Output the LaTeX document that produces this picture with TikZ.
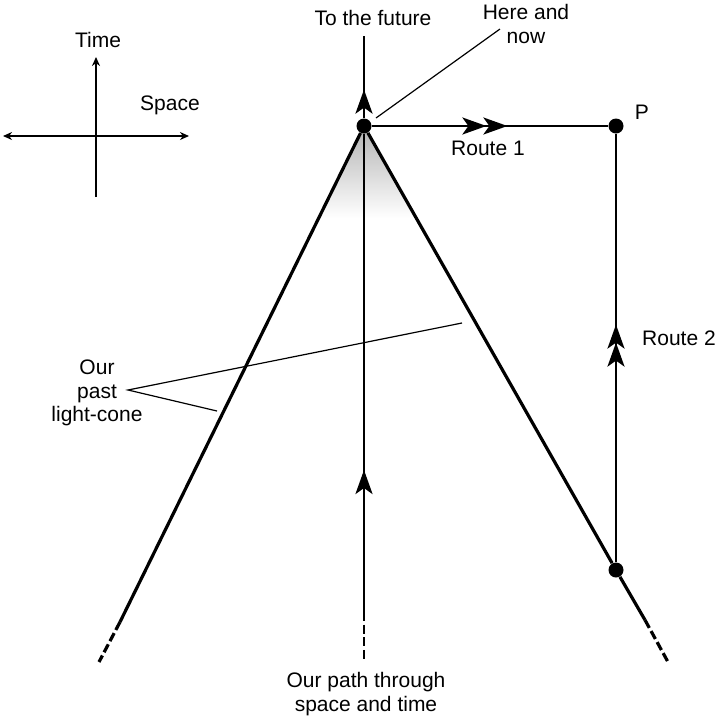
\documentclass[tikz,border=0pt]{standalone}
\usepackage{fontspec}
\setmainfont{Liberation Sans}
\usetikzlibrary{arrows.meta,decorations.markings}
\tikzset{
  rtip/.tip={Stealth[length=12pt,width=8.5pt,inset=3pt]},
  stip/.tip={Stealth[length=4.5pt,width=4pt]}
}
\begin{document}
\begin{tikzpicture}[x=0.5pt,y=-0.5pt,
  lbl/.style={font=\fontsize{10.5}{11.75}\selectfont, align=center, inner sep=0pt},
  dot/.style={circle, fill=black, inner sep=0pt, minimum size=7.5pt},
  cone/.style={line width=1.6pt},
  mid/.style={line width=1.4pt},
  route/.style={line width=1.2pt},
  thin/.style={line width=0.6pt},
  axis/.style={line width=0.8pt},
  dashpart/.style={dash pattern=on 4.5pt off 1.8pt}
]
\useasboundingbox (0,0) rectangle (719,719);

% coordinates
\coordinate (apex) at (364,126);
\coordinate (Ldash) at (120,622);
\coordinate (Lend) at (99,662);
\coordinate (Rdash) at (645,620);
\coordinate (Rend) at (668,662);
\coordinate (Mdash) at (364,612);
\coordinate (Mend) at (364,662);
\coordinate (top) at (364,36);

% shading inside the cone near the apex
\shade[top color=gray!60, bottom color=white] (apex) -- (318,218) -- (416,218) -- cycle;

% nodes
\node[dot] (H) at (apex) {};
\node[dot] (P) at (616,126) {};
\node[dot] (Q) at (616,570) {};

% cone lines
\draw[cone] (H) -- (Ldash);
\draw[cone, dashpart] (Ldash) -- (Lend);
\draw[cone] (H) -- (Q);
\draw[cone] (Q) -- (Rdash);
\draw[cone, dashpart] (Rdash) -- (Rend);

% our path through space and time
\draw[mid, decoration={markings, mark=at position 71pt with {\arrow{rtip}}}, postaction={decorate}] (Mdash) -- (H);
\draw[mid, dashpart] (Mdash) -- (Mend);
\draw[mid, decoration={markings, mark=at position 14.25pt with {\arrow{rtip}}}, postaction={decorate}] (H) -- (top);

% routes
\draw[route, decoration={markings,
   mark=at position 57.25pt with {\arrow{rtip}},
   mark=at position 67.75pt with {\arrow{rtip}}}, postaction={decorate}] (H) -- (P);
\draw[route, decoration={markings,
   mark=at position 109.75pt with {\arrow{rtip}},
   mark=at position 118.75pt with {\arrow{rtip}}}, postaction={decorate}] (Q) -- (P);

% labels
\node[lbl] (fut) at (373,18) {To the future};
\node[lbl] (hn) at (526,24) {Here and\\now};
\node[lbl] (Plbl) at (642,112) {P};
\node[lbl] (r1) at (488,148) {Route 1};
\node[lbl] (r2) at (679,338) {Route 2};
\node[lbl] (lc) at (97,393) {Our\\past\\light-cone};
\node[lbl] (path) at (366,694) {Our path through\\space and time};

% pointers
\coordinate (hnp) at (500,29);
\coordinate (hnq) at (376,118);
\draw[thin] (hnp) -- (hnq);
\coordinate (lcp) at (128,390);
\coordinate (lca) at (462,323);
\coordinate (lcb) at (217,411);
\draw[thin] (lca) -- (lcp) -- (lcb);

% axes
\coordinate (O) at (96,136);
\coordinate (axL) at (3,136);
\coordinate (axR) at (189,136);
\coordinate (axT) at (96,57);
\coordinate (axB) at (96,197);
\draw[axis, {stip}-{stip}] (axL) -- (axR);
\draw[axis, -{stip}] (axB) -- (axT);
\node[lbl] (time) at (98,40) {Time};
\node[lbl] (space) at (170,105) {Space};
\end{tikzpicture}
\end{document}
